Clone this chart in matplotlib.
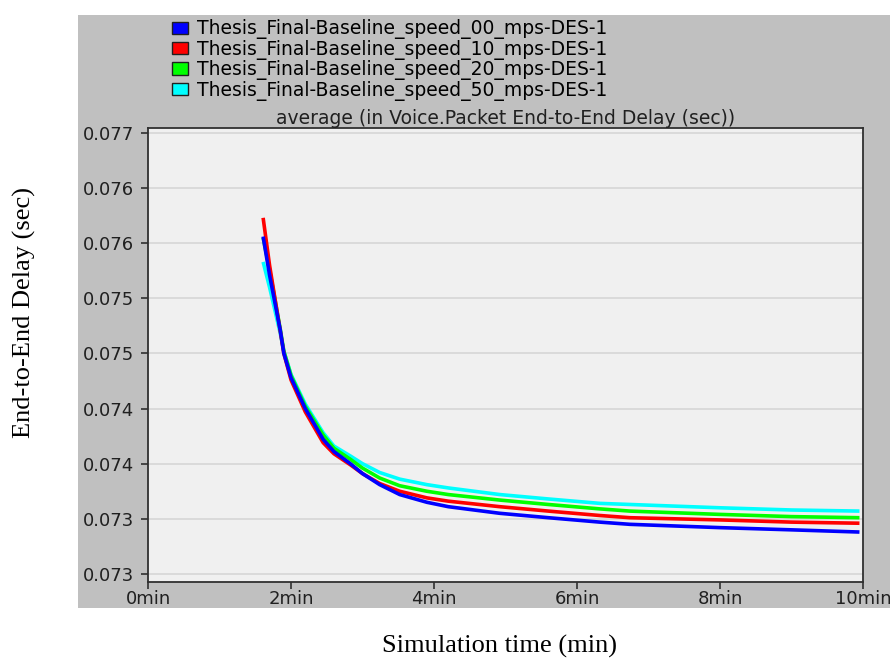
import matplotlib
matplotlib.use("Agg")
import matplotlib.pyplot as plt
from matplotlib.patches import Patch, Rectangle

# simulation time (min) and averaged voice end-to-end delay (sec)
time_min = [1.61, 1.7, 1.85, 1.9, 2.0, 2.2, 2.45, 2.6, 2.83, 3.0, 3.24, 3.52, 3.9, 4.2, 4.92, 5.6, 6.32, 6.74, 8.0, 9.0, 9.95]
speed_00 = [0.07606, 0.07571, 0.07521, 0.07500, 0.07478, 0.07450, 0.07422, 0.07411, 0.07400, 0.07391, 0.07381,
            0.07372, 0.07365, 0.07361, 0.07355, 0.07351, 0.07347, 0.07345, 0.07342, 0.07340, 0.07338]
speed_10 = [0.07623, 0.07580, 0.07520, 0.07500, 0.07476, 0.07447, 0.07419, 0.07409, 0.07399, 0.07391, 0.07382,
            0.07375, 0.07369, 0.07366, 0.07361, 0.07357, 0.07353, 0.07351, 0.07349, 0.07347, 0.07346]
speed_20 = [0.07605, 0.07576, 0.07522, 0.07502, 0.07480, 0.07452, 0.07426, 0.07414, 0.07404, 0.07396, 0.07387,
            0.07380, 0.07375, 0.07372, 0.07367, 0.07363, 0.07359, 0.07357, 0.07354, 0.07352, 0.07351]
speed_50 = [0.07583, 0.07560, 0.07518, 0.07502, 0.07481, 0.07454, 0.07428, 0.07416, 0.07407, 0.07400, 0.07392,
            0.07386, 0.07381, 0.07378, 0.07372, 0.07368, 0.07364, 0.07363, 0.07360, 0.07358, 0.07357]

series_names = ["Thesis_Final-Baseline_speed_00_mps-DES-1",
                "Thesis_Final-Baseline_speed_10_mps-DES-1",
                "Thesis_Final-Baseline_speed_20_mps-DES-1",
                "Thesis_Final-Baseline_speed_50_mps-DES-1"]
series_values = [speed_00, speed_10, speed_20, speed_50]
colors = ["#0000ff", "#ff0000", "#00ff00", "#00ffff"]

x_ticks = [0, 2, 4, 6, 8, 10]
x_ticklabels = ["0min", "2min", "4min", "6min", "8min", "10min"]
y_ticks = [0.0730, 0.0735, 0.0740, 0.0745, 0.0750, 0.0755, 0.0760, 0.0765, 0.0770]
y_ticklabels = ["0.073", "0.073", "0.074", "0.074", "0.075", "0.075", "0.076", "0.076", "0.077"]

fig = plt.figure(figsize=(8.9, 6.6), dpi=100)
fig.patch.set_facecolor("white")

# grey OPNET-style panel behind the plot
fig.patches.append(Rectangle((0.0876, 0.0788), 0.9124, 0.898, transform=fig.transFigure,
                             facecolor="#c0c0c0", edgecolor="none", zorder=-5))

ax = fig.add_axes([0.1663, 0.1182, 0.8034, 0.6879])
ax.set_zorder(2)
ax.set_facecolor("#f0f0f0")

# blue drawn last so it sits on top
for i in [3, 2, 1, 0]:
    ax.plot(time_min, series_values[i], color=colors[i], lw=2.6, solid_capstyle="butt",
            solid_joinstyle="round", zorder=3)

ax.set_xlim(0, 10)
ax.set_ylim(0.072927, 0.077045)
ax.set_xticks(x_ticks)
ax.set_xticklabels(x_ticklabels)
ax.set_yticks(y_ticks)
ax.set_yticklabels(y_ticklabels)
ax.grid(axis="y", color="#d6d6d6", lw=1.2)
ax.set_axisbelow(True)
for s in ax.spines.values():
    s.set_color("#303030")
    s.set_linewidth(1.3)
ax.tick_params(direction="out", length=5, width=1.2, color="#303030", labelsize=13,
               labelcolor="#202020")
ax.tick_params(axis="x", pad=1)
ax.tick_params(axis="y", pad=5)

ax.set_title("average (in Voice.Packet End-to-End Delay (sec))", fontsize=13.5, color="#202020", pad=2)

handles = [Patch(facecolor=c, edgecolor="#202020", lw=1.0) for c in colors]
fig.legend(handles, series_names, loc="upper left", bbox_to_anchor=(0.185, 0.982),
           frameon=False, fontsize=13.5, handlelength=0.85, handleheight=0.65,
           handletextpad=0.45, labelspacing=0.02, borderaxespad=0)

fig.text(0.561, 0.02, "Simulation time (min)", ha="center", va="center",
         family="Liberation Serif", fontsize=19)
fig.text(0.028, 0.527, "End-to-End Delay (sec)", ha="center", va="center", rotation=90,
         family="Liberation Serif", fontsize=19)

fig.savefig("out.png", dpi=100)
